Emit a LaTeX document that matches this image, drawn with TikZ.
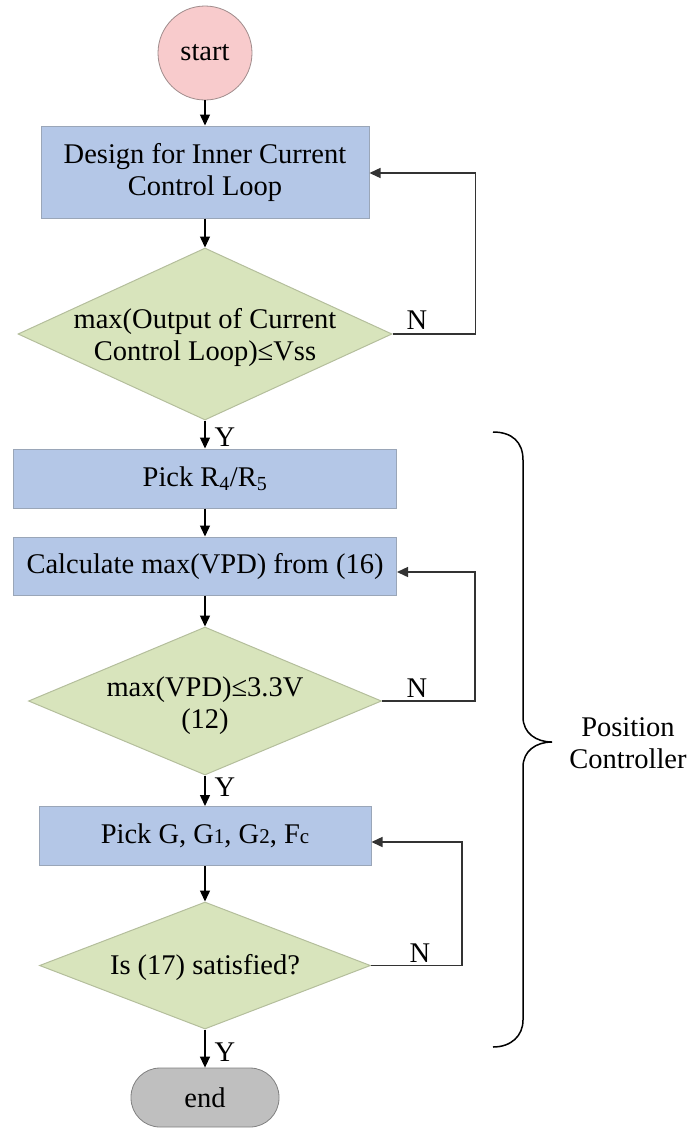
\documentclass[tikz,border=0pt]{standalone}
\usepackage{fontspec}
\setmainfont{Liberation Serif}
\usetikzlibrary{shapes.geometric,arrows.meta}
\definecolor{boxblue}{HTML}{B4C7E7}
\definecolor{boxedge}{HTML}{9AA6B8}
\definecolor{decgreen}{HTML}{D8E4BC}
\definecolor{decedge}{HTML}{B4BE9C}
\definecolor{startpink}{HTML}{F8CBCC}
\definecolor{startedge}{HTML}{A08C8C}
\definecolor{endgray}{HTML}{BFBFBF}
\definecolor{endedge}{HTML}{808080}
\begin{document}
\begin{tikzpicture}[x=1pt,y=-1pt,
  font=\fontsize{28.5}{32}\selectfont,
  proc/.style={draw=boxedge, fill=boxblue, line width=1pt, inner sep=0pt, align=center},
  dec/.style={shape=diamond, draw=decedge, fill=decgreen, line width=1pt, inner sep=0pt},
  dtext/.style={align=center, inner sep=0pt},
  startc/.style={circle, draw=startedge, fill=startpink, line width=0.8pt, minimum size=94pt, inner sep=0pt},
  endr/.style={rectangle, rounded corners=29pt, draw=endedge, fill=endgray, line width=0.8pt, minimum width=148pt, minimum height=59pt, inner sep=0pt},
  arr/.style={-{Triangle[length=11pt,width=10pt]}, line width=1.4pt, draw=black},
  fb/.style={-{Triangle[length=11pt,width=10pt]}, line width=1.4pt, draw=black!80},
  lbl/.style={inner sep=0pt}]
\useasboundingbox (0,0) rectangle (689,1128);

\node[startc] (start) at (205,53) {start};
\node[proc, minimum width=328pt, minimum height=92pt] (b1) at (205,172) {Design for Inner Current\\Control Loop};
\node[dec, minimum width=374pt, minimum height=172pt] (d1) at (205,334) {};
\node[dtext] (t1) at (205,337) {max(Output of Current\\Control Loop)≤Vss};

\node[proc, minimum width=383pt, minimum height=59pt] (b2) at (205,478.5) {Pick R\textsubscript{4}/R\textsubscript{5}};
\node[proc, minimum width=383pt, minimum height=58pt] (b3) at (205,566) {Calculate max(VPD) from (16)};
\node[dec, minimum width=353pt, minimum height=148pt] (d2) at (205,701) {};
\node[dtext] (t2) at (205,706) {max(VPD)≤3.3V\\(12)};

\node[proc, minimum width=332pt, minimum height=59pt] (b4) at (205,836) {Pick G, G{\fontsize{21}{21}\selectfont 1}, G{\fontsize{21}{21}\selectfont 2}, F{\fontsize{21}{21}\selectfont c}};
\node[dec, minimum width=331pt, minimum height=127pt] (d3) at (205,965.5) {};
\node[dtext] (t3) at (205,967) {Is (17) satisfied?};
\node[endr] (end) at (205,1097.5) {end};

% main flow
\draw[arr] (start) -- (b1);
\draw[arr] (b1) -- (d1);
\draw[arr] (d1.south) -- (b2.north);
\draw[arr] (b2) -- (b3);
\draw[arr] (b3) -- (d2);
\draw[arr] (d2.south) -- (b4.north);
\draw[arr] (b4) -- (d3);
\draw[arr] (d3.south) -- (end.north);

% feedback loops
\draw[fb] (d1.east) -- ++(83,0) |- ([yshift=-1pt]b1.east);
\draw[fb] (d2.east) -- ++(93,0) |- ([yshift=-6pt]b3.east);
\draw[fb] (d3.east) -- ++(91,0) |- ([yshift=-6pt]b4.east);

% labels
\node[lbl] (y1) at (225,437) {Y};
\node[lbl] (y2) at (225,787) {Y};
\node[lbl] (y3) at (225,1052) {Y};
\node[lbl] (n1) at (417,320) {N};
\node[lbl] (n2) at (417,688) {N};
\node[lbl] (n3) at (420,953) {N};

% brace
\draw[line width=1.5pt] (493,432) .. controls (512,432) and (523,442) .. (523,460)
  -- (523,717) .. controls (523,733) and (536,742) .. (552,742)
  .. controls (536,742) and (523,751) .. (523,767)
  -- (523,1020) .. controls (523,1036) and (511,1047) .. (493,1047);
\node[align=center, inner sep=0pt] (pc) at (628,743) {Position\\Controller};
\end{tikzpicture}
\end{document}
